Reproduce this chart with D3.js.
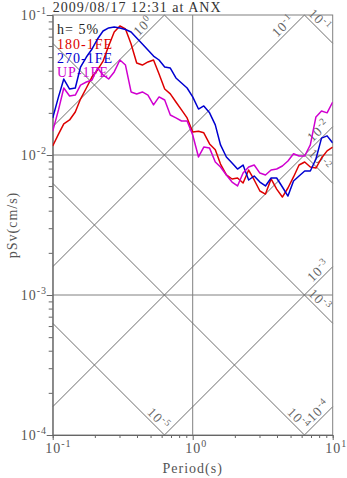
<!DOCTYPE html>
<html>
<head>
<meta charset="utf-8">
<script src="https://cdn.jsdelivr.net/npm/d3@7"></script>
<style>
  body { margin: 0; background: #fff; }
  svg { display: block; }
  text { font-family: "Liberation Serif", "Times New Roman", serif; }
</style>
</head>
<body>
<svg id="chart" width="347" height="478"></svg>
<script>
// Pseudo velocity response spectra, 5% damping (tripartite log-log plot)
const periods = [0.1, 0.11, 0.12, 0.132, 0.145, 0.158, 0.174, 0.191, 0.209, 0.229,
  0.251, 0.275, 0.302, 0.331, 0.363, 0.398, 0.437, 0.479, 0.525, 0.575,
  0.631, 0.692, 0.759, 0.832, 0.912, 1.0, 1.10, 1.20, 1.32, 1.45,
  1.58, 1.74, 1.91, 2.09, 2.29, 2.51, 2.75, 3.02, 3.31, 3.63,
  3.98, 4.37, 4.79, 5.25, 5.75, 6.31, 6.92, 7.59, 8.32, 9.12, 10.0];

const sv180 = [0.0116, 0.0141, 0.0167, 0.0178, 0.0203, 0.0251, 0.0301, 0.0361, 0.0405, 0.0469,
  0.0601, 0.0756, 0.0835, 0.0794, 0.0621, 0.0454, 0.0439, 0.0462, 0.0477, 0.0379,
  0.0296, 0.0273, 0.0239, 0.0210, 0.0184, 0.0146, 0.0148, 0.0144, 0.0120, 0.0109,
  0.00862, 0.00720, 0.00674, 0.00685, 0.00631, 0.00781, 0.00663, 0.00553, 0.00526, 0.00674,
  0.00571, 0.00501, 0.00581, 0.00697, 0.00848, 0.00891, 0.00821, 0.00807, 0.00952, 0.0107, 0.0114];

const sv270 = [0.0184, 0.0260, 0.0349, 0.0296, 0.0301, 0.0425, 0.0501, 0.0572, 0.0674, 0.0769,
  0.0808, 0.0821, 0.0808, 0.0788, 0.0756, 0.0685, 0.0621, 0.0562, 0.0509, 0.0477,
  0.0425, 0.0418, 0.0355, 0.0327, 0.0301, 0.0260, 0.0213, 0.0224, 0.0200, 0.0164,
  0.0118, 0.00968, 0.00877, 0.00794, 0.00848, 0.00663, 0.00708, 0.00641, 0.00601, 0.00685,
  0.00685, 0.00591, 0.00509, 0.00652, 0.00708, 0.00768, 0.00768, 0.00936, 0.0132, 0.0137, 0.0122];

const svUP = [0.0148, 0.0210, 0.0301, 0.0264, 0.0268, 0.0316, 0.0332, 0.0343, 0.0418, 0.0373,
  0.0349, 0.0392, 0.0477, 0.0439, 0.0282, 0.0273, 0.0282, 0.0268, 0.0228, 0.0260,
  0.0247, 0.0193, 0.0184, 0.0175, 0.0175, 0.0139, 0.00968, 0.0114, 0.0112, 0.00891,
  0.00821, 0.00720, 0.00641, 0.00601, 0.00743, 0.00821, 0.00848, 0.00743, 0.00720, 0.00781,
  0.00794, 0.00834, 0.00906, 0.0102, 0.00984, 0.00984, 0.0118, 0.0187, 0.0206, 0.0200, 0.0239];

const seriesNames = ["180-1FE", "270-1FE", "UP-1FE"];
const seriesColors = ["#dd0000", "#0000d0", "#d000d0"];

const xTickValues = [0.1, 1, 10];
const xTickExponents = ["-1", "0", "1"];
const yTickValues = [1e-1, 1e-2, 1e-3, 1e-4];
const yTickExponents = ["-1", "-2", "-3", "-4"];

// constant pseudo-acceleration (cm/s^2) and displacement (cm) guide lines
const accelLevels = [1, 0.1, 0.01, 0.001, 0.0001];
const accelExponents = ["0", "-1", "-2", "-3", "-4"];
const dispLevels = [0.1, 0.01, 0.001, 0.0001, 0.00001];
const dispExponents = ["-1", "-2", "-3", "-4", "-5"];

const titleText = "2009/08/17 12:31 at ANX";
const dampingText = "h= 5%";
const xAxisTitle = "Period(s)";
const yAxisTitle = "pSv(cm/s)";

// ---- layout ----
const L = 52.7, R = 332.7, T = 15, B = 435;
const TWO_PI = 2 * Math.PI;
const tMin = 0.1, tMax = 10, vMin = 1e-4, vMax = 1e-1;

const svg = d3.select("#chart");
const x = d3.scaleLog().domain([tMin, tMax]).range([L, R]);
const y = d3.scaleLog().domain([vMin, vMax]).range([B, T]);

const gridColor = "#808080";
const diagColor = "#6e6e6e";
const textGray = "#555";

svg.append("defs").append("clipPath").attr("id", "plotClip")
  .append("rect").attr("x", L).attr("y", T).attr("width", R - L).attr("height", B - T);

// powers of ten with superscript exponent
function powerLabel(sel, exp, supSize, rise) {
  sel.append("tspan").text("10");
  sel.append("tspan").attr("dy", -rise).attr("font-size", supSize).text(exp);
}

// ---- grid ----
const grid = svg.append("g").attr("stroke", gridColor).attr("stroke-width", 1).attr("fill", "none");
grid.append("line").attr("x1", x(1)).attr("x2", x(1)).attr("y1", T).attr("y2", B);
[1e-2, 1e-3].forEach(v => {
  grid.append("line").attr("x1", L).attr("x2", R).attr("y1", y(v)).attr("y2", y(v));
});

// ---- tripartite diagonals ----
const diag = svg.append("g").attr("stroke", diagColor).attr("stroke-width", 1);
const labelsG = svg.append("g").attr("fill", "#666").attr("font-size", 13.5).attr("letter-spacing", 1);

accelLevels.forEach((a, i) => {
  const t0 = Math.max(tMin, TWO_PI * vMin / a);
  const t1 = Math.min(tMax, TWO_PI * vMax / a);
  if (t0 >= t1) return;
  const p0 = [x(t0), y(a * t0 / TWO_PI)];
  const p1 = [x(t1), y(a * t1 / TWO_PI)];
  diag.append("line").attr("x1", p0[0]).attr("y1", p0[1]).attr("x2", p1[0]).attr("y2", p1[1]);
  const back = t1 >= tMax ? 9 : 16;
  const px = p1[0] - back, py = p1[1] + back;
  const txt = labelsG.append("g").attr("transform", `translate(${px},${py}) rotate(-45)`)
    .append("text").attr("y", -3).attr("text-anchor", "middle");
  powerLabel(txt, accelExponents[i], 9.5, 5);
});

dispLevels.forEach((d, i) => {
  const t0 = Math.max(tMin, TWO_PI * d / vMax);
  const t1 = Math.min(tMax, TWO_PI * d / vMin);
  if (t0 >= t1) return;
  const p0 = [x(t0), y(TWO_PI * d / t0)];
  const p1 = [x(t1), y(TWO_PI * d / t1)];
  diag.append("line").attr("x1", p0[0]).attr("y1", p0[1]).attr("x2", p1[0]).attr("y2", p1[1]);
  const back = t1 >= tMax ? 18 : 11;
  const px = p1[0] - back, py = p1[1] - back;
  const txt = labelsG.append("g").attr("transform", `translate(${px},${py}) rotate(45)`)
    .append("text").attr("y", -3).attr("text-anchor", "middle");
  powerLabel(txt, dispExponents[i], 9.5, 5);
});

// ---- frame ----
svg.append("rect").attr("x", L).attr("y", T).attr("width", R - L).attr("height", B - T)
  .attr("fill", "none").attr("stroke", gridColor).attr("stroke-width", 1);

// ---- axes ----
const axisColor = "#666";
const yAxis = svg.append("g").attr("transform", `translate(${L},0)`)
  .call(d3.axisLeft(y).tickValues(d3.range(-4, -1 + 1e-9, 1).flatMap(e =>
      d3.range(1, 10).map(m => m * Math.pow(10, e))).filter(v => v <= vMax * 1.0001))
    .tickSize(4).tickFormat(""));
yAxis.selectAll(".tick line")
  .attr("x2", d => yTickValues.some(v => Math.abs(v - d) / v < 1e-6) ? -6 : -4);
yAxis.selectAll("line, path").attr("stroke", axisColor);

const xAxis = svg.append("g").attr("transform", `translate(0,${B})`)
  .call(d3.axisBottom(x).tickValues(d3.range(-1, 1, 1).flatMap(e =>
      d3.range(1, 10).map(m => m * Math.pow(10, e))).concat([10]))
    .tickSize(3).tickFormat(""));
xAxis.selectAll(".tick line")
  .attr("y2", d => xTickValues.some(v => Math.abs(v - d) / v < 1e-6) ? 5 : 3);
xAxis.selectAll("line, path").attr("stroke", axisColor);

// tick labels
const tickLabels = svg.append("g").attr("fill", textGray).attr("font-size", 14).attr("letter-spacing", 1);
yTickValues.forEach((v, i) => {
  const t = tickLabels.append("text").attr("x", 47).attr("y", y(v) + 5).attr("text-anchor", "end");
  powerLabel(t, yTickExponents[i], 10, 6);
});
xTickValues.forEach((v, i) => {
  const t = tickLabels.append("text").attr("x", x(v) - 7.5).attr("y", 453);
  powerLabel(t, xTickExponents[i], 10, 6);
});

// axis titles
svg.append("text").attr("x", (L + R) / 2).attr("y", 473).attr("text-anchor", "middle")
  .attr("font-size", 14).attr("letter-spacing", 1).attr("fill", textGray).text(xAxisTitle);
svg.append("text").attr("transform", `translate(17,${(T + B) / 2}) rotate(-90)`)
  .attr("text-anchor", "middle").attr("font-size", 14).attr("letter-spacing", 1)
  .attr("fill", textGray).text(yAxisTitle);

// title
svg.append("text").attr("x", L).attr("y", 11.5).attr("font-size", 14).attr("letter-spacing", 1)
  .attr("fill", "#333").text(titleText);

// ---- legend ----
const legend = svg.append("g").attr("font-size", 14).attr("letter-spacing", 1);
legend.append("text").attr("x", 57).attr("y", 34).attr("fill", "#222").text(dampingText);
seriesNames.forEach((n, i) => {
  legend.append("text").attr("x", 57).attr("y", 48.5 + i * 14.3).attr("fill", seriesColors[i]).text(n);
});

// ---- spectra ----
const line = d3.line().x(d => x(d[0])).y(d => y(d[1]));
const curves = svg.append("g").attr("clip-path", "url(#plotClip)");
[sv180, sv270, svUP].forEach((vals, i) => {
  curves.append("path").datum(periods.map((p, k) => [p, vals[k]]))
    .attr("d", line).attr("fill", "none").attr("stroke", seriesColors[i])
    .attr("stroke-width", 1.5).attr("stroke-linejoin", "round");
});
</script>
</body>
</html>
